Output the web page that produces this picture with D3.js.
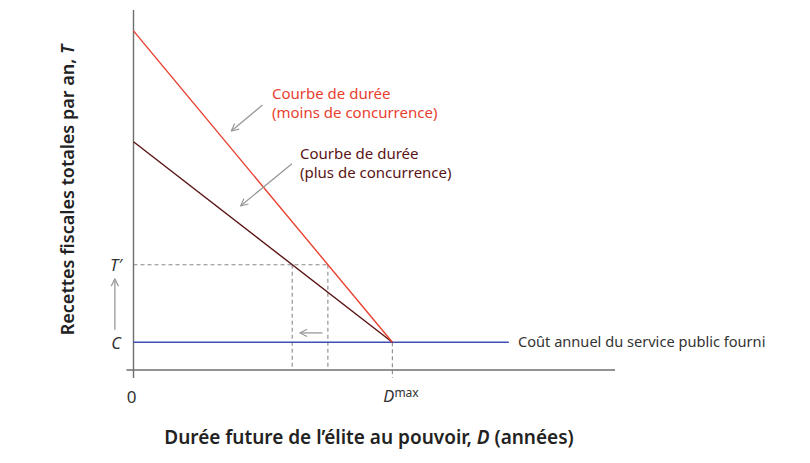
<!DOCTYPE html>
<html><head><meta charset="utf-8">
<script src="https://cdn.jsdelivr.net/npm/d3@7"></script>
<style>
html,body{margin:0;padding:0;background:#fff;}
svg text{font-family:"Noto Sans","Open Sans",sans-serif;}
</style></head>
<body>
<svg id="chart" width="810" height="463"></svg>
<script>
// ---- data (model units) ----
const D_MAX = 10;
const X_END = 18.6;
const Y_TOP = 100;
const C_LEVEL = 7.7;
const T_PRIME = 29.25;
const redCurve = [[0, 94.2], [D_MAX, C_LEVEL]];     // moins de concurrence
const darkCurve = [[0, 63.4], [D_MAX, C_LEVEL]];    // plus de concurrence
const costLine = [[0, C_LEVEL], [14.5, C_LEVEL]];
const yTickLabels = ["C", "T\u2032"];
const labels = {
  red: ["Courbe de durée", "(moins de concurrence)"],
  dark: ["Courbe de durée", "(plus de concurrence)"],
  cost: "Coût annuel du service public fourni",
  xTitle: "Durée future de l’élite au pouvoir, ",
  yTitle: "Recettes fiscales totales par an, "
};
// annotation arrows [from, to] in model units
const redArrow = [[4.98, 73.6], [3.78, 66.4]];
const darkArrow = [[6.12, 57.3], [4.14, 45.6]];
const shiftArrow = [[7.3, 10.3], [6.43, 10.3]];
const upArrow = [[-0.72, 11.2], [-0.72, 25.3]];

// ---- scales ----
const x = d3.scaleLinear().domain([0, X_END]).range([133.5, 615]);
const y = d3.scaleLinear().domain([0, Y_TOP]).range([370, 10]);

const svg = d3.select("#chart");
const line = d3.line().x(d => x(d[0])).y(d => y(d[1]));

function xAt(curve, v) {
  const [a, b] = curve;
  return a[0] + (b[0] - a[0]) * (v - a[1]) / (b[1] - a[1]);
}
const xRedT = xAt(redCurve, T_PRIME);
const xDarkT = xAt(darkCurve, T_PRIME);

const defs = svg.append("defs");
defs.append("marker").attr("id", "ah").attr("viewBox", "0 0 10 10")
  .attr("refX", 9).attr("refY", 5).attr("markerWidth", 9).attr("markerHeight", 9)
  .attr("markerUnits", "userSpaceOnUse").attr("orient", "auto")
  .append("path").attr("d", "M1,1 L9,5 L1,9").attr("fill", "none")
  .attr("stroke", "#999").attr("stroke-width", 1.3);

const dashColor = "#8a8a8a";
svg.append("line").attr("x1", x(0)).attr("x2", x(xRedT)).attr("y1", y(T_PRIME)).attr("y2", y(T_PRIME))
  .attr("stroke", dashColor).attr("stroke-width", 1.1).attr("stroke-dasharray", "4,3");
[xDarkT, xRedT].forEach(v => {
  svg.append("line").attr("x1", x(v)).attr("x2", x(v)).attr("y1", y(T_PRIME)).attr("y2", y(0))
    .attr("stroke", dashColor).attr("stroke-width", 1.1).attr("stroke-dasharray", "4,3");
});
svg.append("line").attr("x1", x(D_MAX)).attr("x2", x(D_MAX)).attr("y1", y(C_LEVEL)).attr("y2", y(0) + 8)
  .attr("stroke", dashColor).attr("stroke-width", 1.1).attr("stroke-dasharray", "4,3");

const axisColor = "#6e6e6e";
svg.append("line").attr("x1", x(0)).attr("x2", x(0)).attr("y1", y(Y_TOP)).attr("y2", y(0) + 8)
  .attr("stroke", axisColor).attr("stroke-width", 1.4);
svg.append("line").attr("x1", x(0) - 7).attr("x2", x(X_END)).attr("y1", y(0)).attr("y2", y(0))
  .attr("stroke", axisColor).attr("stroke-width", 1.4);

svg.append("path").datum(costLine).attr("d", line).attr("stroke", "#3f4fb5").attr("stroke-width", 1.4).attr("fill", "none");
svg.append("path").datum(darkCurve).attr("d", line).attr("stroke", "#5a1414").attr("stroke-width", 1.4).attr("fill", "none");
svg.append("path").datum(redCurve).attr("d", line).attr("stroke", "#e8402f").attr("stroke-width", 1.4).attr("fill", "none");

[redArrow, darkArrow, shiftArrow, upArrow].forEach(a => {
  svg.append("line").attr("x1", x(a[0][0])).attr("y1", y(a[0][1]))
    .attr("x2", x(a[1][0])).attr("y2", y(a[1][1]))
    .attr("stroke", "#999").attr("stroke-width", 1.3).attr("marker-end", "url(#ah)");
});

const fs = 15;
svg.append("text").attr("x", 272).attr("y", 99).attr("font-size", fs).attr("fill", "#e8402f").text(labels.red[0]);
svg.append("text").attr("x", 272).attr("y", 118).attr("font-size", fs).attr("fill", "#e8402f").text(labels.red[1]);
svg.append("text").attr("x", 300).attr("y", 159).attr("font-size", fs).attr("fill", "#5a1414").text(labels.dark[0]);
svg.append("text").attr("x", 300).attr("y", 178).attr("font-size", fs).attr("fill", "#5a1414").text(labels.dark[1]);
svg.append("text").attr("x", 518).attr("y", y(C_LEVEL)).attr("dy", "0.35em").attr("font-size", 14.6).attr("fill", "#333").text(labels.cost);

[C_LEVEL, T_PRIME].forEach((v, i) => {
  svg.append("text").attr("x", 116).attr("y", y(v) + 1).attr("dy", "0.35em").attr("text-anchor", "middle")
    .attr("font-size", 16.5).attr("font-style", "italic").attr("fill", "#333").text(yTickLabels[i]);
});
svg.append("text").attr("x", x(0) - 2).attr("y", 403).attr("text-anchor", "middle").attr("font-size", 17).attr("fill", "#333").text("0");
const dm = svg.append("text").attr("x", x(D_MAX) - 9).attr("y", 402).attr("text-anchor", "start").attr("font-size", 16.5).attr("fill", "#333");
dm.append("tspan").attr("font-style", "italic").text("D");
dm.append("tspan").attr("font-size", 12).attr("dy", -5).text("max");

const xt = svg.append("text").attr("x", 369).attr("y", 444).attr("text-anchor", "middle")
  .attr("font-size", 19).attr("font-weight", 600).attr("fill", "#222");
xt.append("tspan").text(labels.xTitle);
xt.append("tspan").attr("font-style", "italic").text("D");
xt.append("tspan").text(" (années)");

const yt = svg.append("text").attr("transform", "translate(74,190) rotate(-90)").attr("text-anchor", "middle")
  .attr("font-size", 18).attr("font-weight", 600).attr("fill", "#222");
yt.append("tspan").text(labels.yTitle);
yt.append("tspan").attr("font-style", "italic").text("T");
</script>
</body></html>
